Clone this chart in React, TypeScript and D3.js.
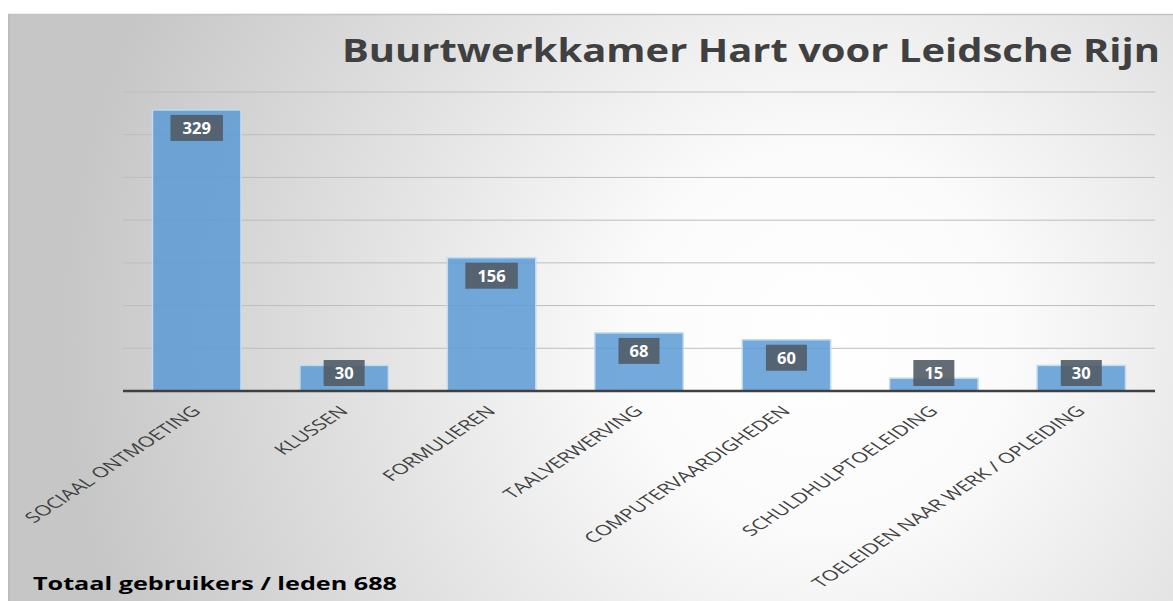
import React from "react";
import * as d3 from "d3";

const categories = [
  "SOCIAAL ONTMOETING",
  "KLUSSEN",
  "FORMULIEREN",
  "TAALVERWERVING",
  "COMPUTERVAARDIGHEDEN",
  "SCHULDHULPTOELEIDING",
  "TOELEIDEN NAAR WERK / OPLEIDING",
];
const values = [329, 30, 156, 68, 60, 15, 30];
const yTicks = [0, 50, 100, 150, 200, 250, 300, 350];
const title = "Buurtwerkkamer Hart voor Leidsche Rijn";
const footer = "Totaal gebruikers / leden 688";

const W = 1173;
const H = 601;
const left = 123;
const right = 1155;
const top = 92;
const base = 391;

export default function App() {
  const x = d3.scaleBand<string>().domain(categories).range([left, right]).paddingInner(0.4).paddingOuter(0.2);
  const y = d3.scaleLinear().domain([0, 350]).range([base, top]);
  const font = "'Open Sans', 'DejaVu Sans', sans-serif";
  return (
    <svg width={W} height={H} style={{ position: "absolute", left: 0, top: 0, display: "block" }}>
      <defs>
        <radialGradient id="bg" gradientUnits="userSpaceOnUse" cx={820} cy={340} r={760} fx={820} fy={340}>
          <stop offset="0" stopColor="#ffffff" />
          <stop offset="0.25" stopColor="#fbfbfb" />
          <stop offset="0.6" stopColor="#e2e2e2" />
          <stop offset="1" stopColor="#c6c6c6" />
        </radialGradient>
      </defs>
      <rect x={0} y={0} width={W} height={H} fill="#ffffff" />
      <rect x={8} y={14} width={W - 8} height={H - 14} fill="url(#bg)" />
      <line x1={8} x2={W} y1={14.5} y2={14.5} stroke="#c4c4c4" strokeWidth={1.5} />
      <line x1={9} x2={9} y1={14} y2={H} stroke="#bcbcbc" strokeWidth={2} />
      <text x={342} y={62} fontFamily={font} fontWeight={700} fontSize={31.5} fill="#404040"
        textLength={818} lengthAdjust="spacingAndGlyphs">{title}</text>
      {yTicks.filter((t) => t > 0).map((t) => (
        <line key={t} x1={left} x2={right} y1={y(t)} y2={y(t)} stroke="#bdbdbd" strokeWidth={1} />
      ))}
      {categories.map((c, i) => {
        const v = values[i];
        const bx = x(c)!;
        const bw = x.bandwidth();
        return (
          <rect key={c} x={bx} y={y(v)} width={bw} height={base - y(v)}
            fill="#5b9bd5" fillOpacity={0.85} stroke="#c4dbf0" strokeWidth={1.5} />
        );
      })}
      <line x1={left} x2={right} y1={base} y2={base} stroke="#404040" strokeWidth={2.5} />
      {categories.map((c, i) => {
        const v = values[i];
        const cx = x(c)! + x.bandwidth() / 2;
        const label = String(v);
        const bw = label.length * 11.5 + 18;
        const bh = 26;
        const by = Math.min(y(v) + 5, base - 5 - bh);
        return (
          <g key={c}>
            <rect x={cx - bw / 2} y={by} width={bw} height={bh} fill="#525c66" fillOpacity={0.9} />
            <text x={cx} y={by + bh / 2 + 6} textAnchor="middle" fontFamily={font} fontWeight={700}
              fontSize={16.5} fill="#ffffff">{label}</text>
          </g>
        );
      })}
      {categories.map((c) => {
        const cx = x(c)! + x.bandwidth() / 2;
        return (
          <text key={c} transform={`translate(${cx + 5},${412}) scale(1.5,1) rotate(-45)`}
            textAnchor="end" fontFamily={font} fontSize={14.5} fill="#404040">{c}</text>
        );
      })}
      <text x={33} y={590} fontFamily={font} fontWeight={700} fontSize={17} fill="#000000"
        textLength={364} lengthAdjust="spacingAndGlyphs">{footer}</text>
    </svg>
  );
}
